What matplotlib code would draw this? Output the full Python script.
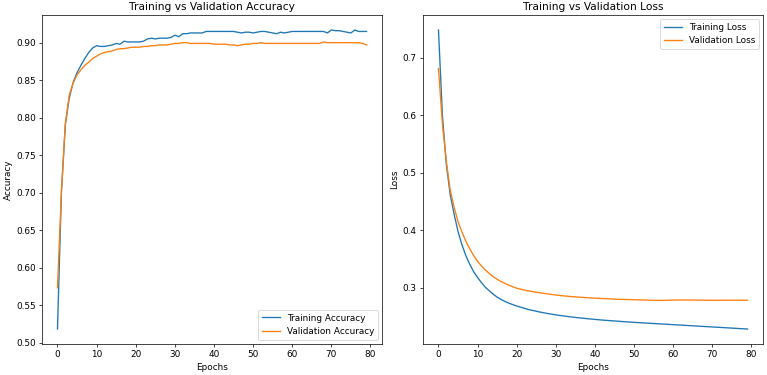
import matplotlib
matplotlib.use("Agg")
import matplotlib.pyplot as plt

epochs = list(range(80))

train_acc = [0.518, 0.700, 0.790, 0.826, 0.847, 0.860, 0.870, 0.879, 0.887, 0.893,
             0.896, 0.895, 0.895, 0.896, 0.897, 0.899, 0.898, 0.902, 0.901, 0.901,
             0.901, 0.901, 0.902, 0.905, 0.906, 0.905, 0.906, 0.906, 0.906, 0.907,
             0.910, 0.908, 0.912, 0.912, 0.913, 0.913, 0.913, 0.913, 0.915, 0.915,
             0.915, 0.915, 0.915, 0.915, 0.915, 0.915, 0.914, 0.913, 0.914, 0.914,
             0.913, 0.914, 0.915, 0.915, 0.914, 0.913, 0.912, 0.914, 0.913, 0.914,
             0.915, 0.915, 0.915, 0.915, 0.915, 0.915, 0.915, 0.915, 0.915, 0.913,
             0.917, 0.916, 0.916, 0.915, 0.914, 0.913, 0.917, 0.915, 0.915, 0.915]

val_acc = [0.573, 0.700, 0.792, 0.830, 0.846, 0.857, 0.864, 0.870, 0.874, 0.879,
           0.882, 0.885, 0.887, 0.888, 0.889, 0.891, 0.892, 0.892, 0.893, 0.894,
           0.894, 0.894, 0.895, 0.895, 0.896, 0.896, 0.897, 0.897, 0.897, 0.898,
           0.899, 0.899, 0.900, 0.900, 0.899, 0.899, 0.899, 0.899, 0.899, 0.899,
           0.898, 0.898, 0.898, 0.898, 0.897, 0.897, 0.896, 0.897, 0.898, 0.898,
           0.899, 0.899, 0.900, 0.899, 0.899, 0.899, 0.899, 0.899, 0.899, 0.899,
           0.899, 0.899, 0.899, 0.899, 0.899, 0.899, 0.899, 0.899, 0.901, 0.900,
           0.900, 0.900, 0.900, 0.900, 0.900, 0.900, 0.900, 0.900, 0.899, 0.897]

train_loss = [0.748, 0.600, 0.515, 0.462, 0.428, 0.398, 0.375, 0.356, 0.341, 0.328,
              0.318, 0.309, 0.301, 0.295, 0.289, 0.284, 0.280, 0.2765, 0.2735, 0.271,
              0.2685, 0.2665, 0.2645, 0.2625, 0.261, 0.2595, 0.258, 0.2567, 0.2555, 0.2543,
              0.2532, 0.2522, 0.2513, 0.2504, 0.2495, 0.2487, 0.248, 0.2473, 0.2466, 0.246,
              0.2453, 0.2447, 0.2441, 0.2436, 0.2431, 0.2426, 0.2421, 0.2416, 0.2411, 0.2406,
              0.2402, 0.2398, 0.2394, 0.239, 0.2386, 0.2382, 0.2378, 0.2374, 0.237, 0.2366,
              0.2362, 0.2358, 0.2354, 0.235, 0.2346, 0.2342, 0.2338, 0.2334, 0.233, 0.2326,
              0.2322, 0.2318, 0.2314, 0.231, 0.2306, 0.2302, 0.2298, 0.2294, 0.229, 0.2286]

val_loss = [0.681, 0.585, 0.520, 0.470, 0.440, 0.415, 0.397, 0.381, 0.368, 0.356,
            0.346, 0.338, 0.331, 0.325, 0.3195, 0.315, 0.311, 0.3077, 0.3047, 0.302,
            0.2995, 0.2978, 0.2962, 0.2948, 0.2936, 0.2925, 0.2915, 0.2905, 0.2895, 0.2886,
            0.2877, 0.2869, 0.2862, 0.2855, 0.2849, 0.2844, 0.2839, 0.2834, 0.283, 0.2826,
            0.2822, 0.2818, 0.2815, 0.2812, 0.2809, 0.2806, 0.2803, 0.2801, 0.2799, 0.2797,
            0.2795, 0.2793, 0.2791, 0.2789, 0.2787, 0.2785, 0.2783, 0.2783, 0.2785, 0.2787,
            0.2789, 0.279, 0.279, 0.279, 0.279, 0.2789, 0.2788, 0.2787, 0.2786, 0.2785,
            0.2785, 0.2785, 0.2786, 0.2786, 0.2786, 0.2787, 0.2787, 0.2787, 0.2787, 0.2787]

fig, (ax1, ax2) = plt.subplots(1, 2, figsize=(767 / 64, 375 / 64), dpi=64)
fig.subplots_adjust(left=0.0548, right=0.9948, bottom=0.0827, top=0.96, wspace=0.1206)

ax1.plot(epochs, train_acc, color="#1f77b4", lw=1.5, label="Training Accuracy")
ax1.plot(epochs, val_acc, color="#ff7f0e", lw=1.5, label="Validation Accuracy")
ax1.set_title("Training vs Validation Accuracy")
ax1.set_xlabel("Epochs")
ax1.set_ylabel("Accuracy")
ax1.legend(loc="lower right")

ax2.plot(epochs, train_loss, color="#1f77b4", lw=1.5, label="Training Loss")
ax2.plot(epochs, val_loss, color="#ff7f0e", lw=1.5, label="Validation Loss")
ax2.set_title("Training vs Validation Loss")
ax2.set_xlabel("Epochs")
ax2.set_ylabel("Loss")
ax2.legend(loc="upper right")

fig.savefig("out.png", dpi=64)
